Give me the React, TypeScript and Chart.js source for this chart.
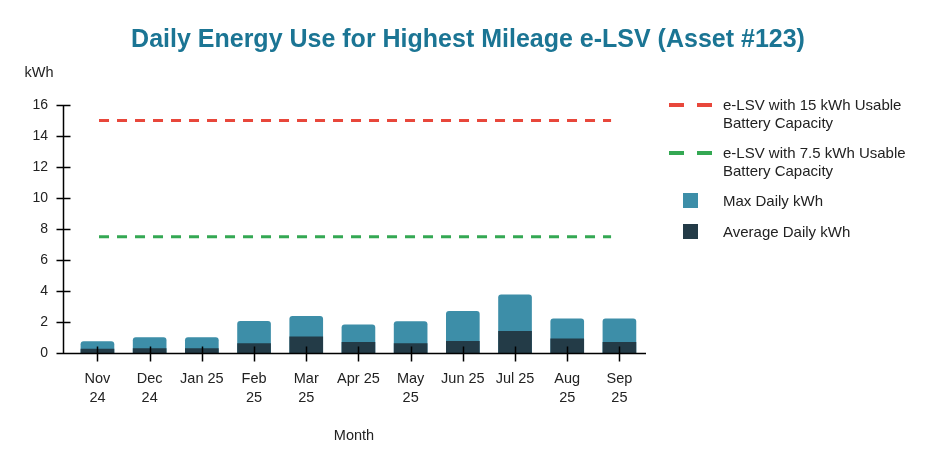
import React, { useEffect, useRef } from "react";
import { Chart, registerables } from "chart.js";

Chart.register(...registerables);

// ---- Data ----
const monthLabels: (string | string[])[] = [
  ["Nov", "24"], ["Dec", "24"], "Jan 25", ["Feb", "25"], ["Mar", "25"], "Apr 25",
  ["May", "25"], "Jun 25", "Jul 25", ["Aug", "25"], ["Sep", "25"],
];
const maxDailyKwh = [0.73, 0.99, 0.99, 2.04, 2.37, 1.81, 2.02, 2.69, 3.76, 2.21, 2.21];
const avgDailyKwh = [0.26, 0.28, 0.28, 0.6, 1.05, 0.69, 0.6, 0.75, 1.4, 0.92, 0.69];
const capacity15 = 15;
const capacity75 = 7.5;
const capacitySpan = [0.03, 9.84]; // month-index span of the capacity reference lines
const yTickValues = [0, 2, 4, 6, 8, 10, 12, 14, 16];

const TITLE = "Daily Energy Use for Highest Mileage e-LSV (Asset #123)";
const FONT = "'Liberation Sans', Arial, sans-serif";

const COLORS = {
  title: "#1b7594",
  red: "#e8473b",
  green: "#34a853",
  max: "#3d8ea8",
  avg: "#233b47",
  text: "#222222",
};

const legendItems = [
  { kind: "dash", color: COLORS.red, lines: ["e-LSV with 15 kWh Usable", "Battery Capacity"], y: 105 },
  { kind: "dash", color: COLORS.green, lines: ["e-LSV with 7.5 kWh Usable", "Battery Capacity"], y: 153 },
  { kind: "box", color: COLORS.max, lines: ["Max Daily kWh"], y: 201 },
  { kind: "box", color: COLORS.avg, lines: ["Average Daily kWh"], y: 232 },
];

const decorPlugin = {
  id: "decor",
  afterDraw(chart: any) {
    const { ctx, chartArea, scales } = chart;
    const xs = scales.x;
    const ys = scales.y;
    ctx.save();
    // title
    ctx.fillStyle = COLORS.title;
    ctx.font = `bold 25px ${FONT}`;
    ctx.textAlign = "center";
    ctx.textBaseline = "middle";
    ctx.fillText(TITLE, chart.width / 2, 40);
    // y unit label
    ctx.fillStyle = COLORS.text;
    ctx.font = `14.5px ${FONT}`;
    ctx.fillText("kWh", 39, 73);
    // axes
    ctx.strokeStyle = "#000";
    ctx.lineWidth = 1.5;
    const x0 = Math.round(chartArea.left) + 0.5;
    const yb = Math.round(chartArea.bottom) + 0.5;
    ctx.beginPath();
    ctx.moveTo(x0, ys.getPixelForValue(16));
    ctx.lineTo(x0, yb);
    ctx.moveTo(x0 - 7, yb);
    ctx.lineTo(chartArea.right + 1, yb);
    // y ticks
    yTickValues.forEach((v) => {
      const py = Math.round(ys.getPixelForValue(v)) + 0.5;
      ctx.moveTo(x0 - 7, py);
      ctx.lineTo(x0 + 7, py);
    });
    // x ticks
    monthLabels.forEach((_, i) => {
      const px = Math.round(xs.getPixelForValue(i)) + 0.5;
      ctx.moveTo(px, yb - 7);
      ctx.lineTo(px, yb + 8);
    });
    ctx.stroke();
    ctx.restore();
  },
};

function DashSymbol({ color }: { color: string }) {
  const seg = { position: "absolute" as const, top: 0, width: 15, height: 4, background: color };
  return (
    <div style={{ position: "absolute", left: 669, width: 45, height: 4 }}>
      <div style={{ ...seg, left: 0 }} />
      <div style={{ ...seg, left: 28 }} />
    </div>
  );
}

export default function App() {
  const canvasRef = useRef<HTMLCanvasElement | null>(null);

  useEffect(() => {
    if (!canvasRef.current) return;
    const lineData = (v: number) => capacitySpan.map((x) => ({ x, y: v }));
    const chart = new Chart(canvasRef.current, {
      type: "bar",
      data: {
        datasets: [
          {
            type: "line",
            label: "e-LSV with 15 kWh Usable Battery Capacity",
            data: lineData(capacity15),
            borderColor: COLORS.red,
            borderWidth: 3,
            borderDash: [10, 8],
            pointRadius: 0,
            fill: false,
          } as any,
          {
            type: "line",
            label: "e-LSV with 7.5 kWh Usable Battery Capacity",
            data: lineData(capacity75),
            borderColor: COLORS.green,
            borderWidth: 3,
            borderDash: [10, 8],
            pointRadius: 0,
            fill: false,
          } as any,
          {
            type: "bar",
            label: "Average Daily kWh",
            data: avgDailyKwh.map((y, x) => ({ x, y })),
            backgroundColor: COLORS.avg,
            barThickness: 33,
            grouped: false,
          } as any,
          {
            type: "bar",
            label: "Max Daily kWh",
            data: maxDailyKwh.map((y, x) => ({ x, y })),
            backgroundColor: COLORS.max,
            barThickness: 33,
            grouped: false,
            borderRadius: { topLeft: 3, topRight: 3, bottomLeft: 0, bottomRight: 0 },
            borderSkipped: "start",
          } as any,
        ],
      },
      options: {
        animation: false,
        responsive: false,
        maintainAspectRatio: false,
        layout: { padding: { top: 105, right: 291, left: 0, bottom: 0 } },
        plugins: {
          legend: { display: false },
          title: { display: false },
          tooltip: { enabled: false },
        },
        scales: {
          x: {
            type: "linear",
            offset: false,
            min: -0.66,
            max: 10.49,
            grid: { display: false, drawTicks: false, offset: false },
            border: { display: false },
            afterBuildTicks: (axis: any) => {
              axis.ticks = monthLabels.map((_, i) => ({ value: i }));
            },
            afterFit: (axis: any) => {
              axis.height = 115;
            },
            ticks: {
              autoSkip: false,
              maxRotation: 0,
              padding: 17,
              color: COLORS.text,
              font: { family: FONT, size: 14.5, lineHeight: 1.3 },
              callback: (v: any) => monthLabels[Math.round(Number(v))] as any,
            },
            title: {
              display: true,
              text: "Month",
              color: COLORS.text,
              font: { family: FONT, size: 14.5 },
              padding: { top: 0, bottom: 23 },
            },
          },
          y: {
            min: 0,
            max: 16,
            grid: { display: false, drawTicks: false },
            border: { display: false },
            afterFit: (axis: any) => {
              axis.width = 63;
            },
            ticks: {
              stepSize: 2,
              padding: 15,
              color: COLORS.text,
              font: { family: FONT, size: 14 },
            },
          },
        },
      } as any,
      plugins: [decorPlugin],
    });
    return () => chart.destroy();
  }, []);

  return (
    <div style={{ position: "fixed", left: 0, top: 0, width: 936, height: 468, background: "#fff" }}>
      <canvas ref={canvasRef} width={936} height={468} style={{ width: 936, height: 468 }} />
      {legendItems.map((item, idx) => (
        <div key={idx} style={{ position: "absolute", left: 0, top: item.y, width: 936 }}>
          {item.kind === "dash" ? (
            <div style={{ position: "absolute", top: -2, left: 0 }}>
              <DashSymbol color={item.color} />
            </div>
          ) : (
            <div style={{ position: "absolute", left: 683, top: -8, width: 15, height: 15, background: item.color }} />
          )}
          <div
            style={{
              position: "absolute",
              left: 723,
              top: -9.5,
              fontFamily: FONT,
              fontSize: 15,
              lineHeight: "18px",
              color: COLORS.text,
              whiteSpace: "nowrap",
            }}
          >
            {item.lines.map((l, j) => (
              <div key={j}>{l}</div>
            ))}
          </div>
        </div>
      ))}
    </div>
  );
}
